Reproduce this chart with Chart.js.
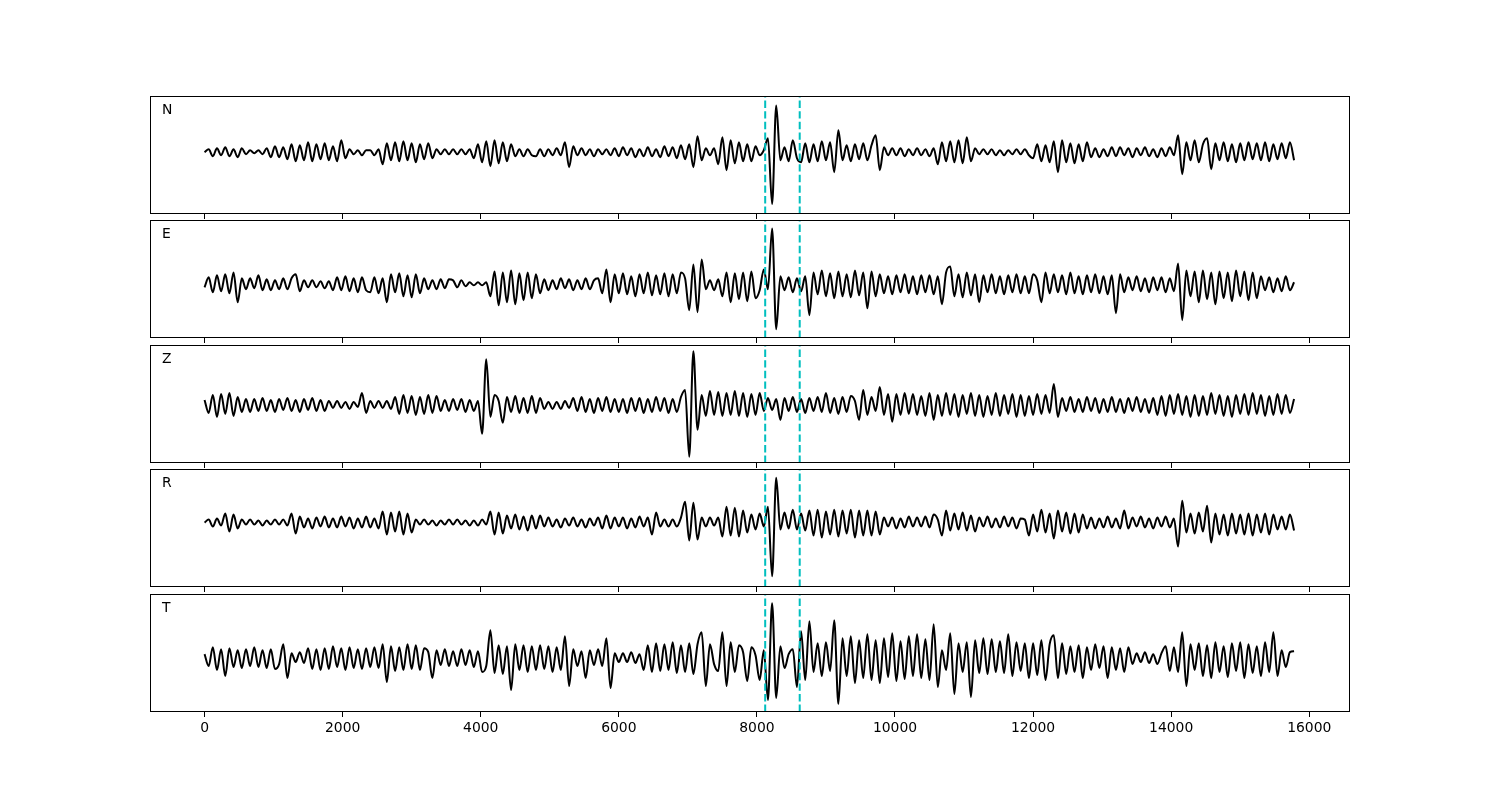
<!DOCTYPE html>
<html>
<head>
<meta charset="utf-8">
<title>Waveforms N E Z R T</title>
<script src="https://cdn.jsdelivr.net/npm/chart.js@4/dist/chart.umd.min.js"></script>
<style>
  body { margin: 0; background: #fff; }
  #wrap { position: relative; width: 1500px; height: 800px; }
  #wrap canvas { position: absolute; left: 150px; }
</style>
</head>
<body>
<div id="wrap"></div>
<script>
// sample spacing of the traces (x units)
const sampleStep = 60;
const components = ['N', 'E', 'Z', 'R', 'T'];

// traces, one value per sample
const nTrace = [
  0,3,-4,4,-3,5,-4,3,-5,4,-2,2,-1,2,-2,4,-5,6,-5,5,
  -7,8,-9,7,-8,10,-9,8,-7,9,-8,6,-9,12,-6,3,-2,2,-3,2,
  2,-3,3,-12,9,-8,10,-9,11,-8,9,-10,8,-7,9,-6,3,-2,3,-2,
  3,-2,3,-2,3,-6,8,-10,11,-14,12,-11,10,-9,8,-4,3,-4,3,-3,
  -4,3,-4,3,-3,4,-3,10,-15,6,-3,4,-3,3,-4,3,-2,3,-3,4,
  -4,5,-3,4,-5,3,-4,5,-4,3,-5,6,-4,5,-6,7,-7,8,-15,16,
  -8,4,-3,4,-12,15,-18,12,-11,10,-9,8,-9,6,-3,2,14,-52,47,-8,
  5,-9,12,-6,-10,9,-10,8,-9,11,-8,10,-20,22,-8,7,-9,8,-7,9,
  -8,7,17,-18,5,-3,4,-3,4,-4,3,-3,4,-3,3,-4,4,-12,10,-9,
  11,-10,12,-11,15,-9,4,-2,3,-2,3,-3,2,-3,2,-2,3,-2,3,-3,
  -6,8,-9,7,-10,11,-20,12,-10,9,-11,8,-9,10,-5,4,-5,3,-4,5,
  -4,5,-3,4,-5,4,-3,5,-4,3,-5,4,-4,5,-3,17,-22,10,-8,12,
  -10,8,14,-17,9,-8,10,-9,8,-10,9,-8,10,-7,9,-8,10,-9,8,-7,
  9,-6,10,-8
];
const eTrace = [
  -3,7,-8,9,-7,10,-9,12,-18,6,-5,6,-4,9,-6,5,-6,4,-5,6,
  -5,6,10,-7,4,-3,4,-3,3,-4,3,-6,7,-6,8,-7,6,-8,7,-6,
  -8,7,-9,6,-18,10,-8,11,-12,9,-13,10,-9,6,-5,4,-5,5,-4,5,
  4,-3,4,-2,2,-1,2,-1,2,-12,13,-21,12,-18,14,-20,11,-16,12,-14,
  10,-9,5,-6,4,-5,6,-4,5,-6,4,-5,6,-5,4,6,-9,15,-18,10,
  -9,11,-10,8,-12,10,-9,12,-11,9,-10,11,-12,10,-9,12,6,-26,20,-28,
  25,-5,4,-6,5,-12,12,-18,11,-15,12,-17,13,-14,-6,15,-5,56,-45,8,
  -6,7,-8,6,-7,8,-31,12,-10,14,-12,11,-14,13,-12,10,-13,14,-11,12,
  -24,13,-12,10,-9,8,-10,9,-8,10,-9,8,-10,9,-8,9,-10,8,-20,12,
  18,-12,10,-13,12,-11,10,-18,9,-8,10,-9,8,-10,9,-8,10,-9,8,-9,
  10,4,-18,12,-9,10,-8,9,-10,12,-9,8,-10,9,-8,10,-9,8,-10,9,
  -29,10,-8,7,-6,8,-7,6,-8,7,-6,7,-8,6,-7,21,-36,14,-12,13,
  -18,14,-15,12,-20,13,-14,12,-17,14,-12,13,-16,12,-14,8,-6,7,-8,6,
  -7,8,-6,2
];
const zTrace = [
  5,-8,10,-12,11,-9,12,-11,8,-7,6,-7,6,-6,7,-6,5,-7,6,-5,
  7,-6,5,-7,6,-5,7,-6,5,-6,4,-3,4,-3,3,-4,3,-2,12,-8,
  4,-3,4,-3,4,-4,8,-9,10,-8,9,-10,8,-9,10,-8,9,-6,5,-6,
  6,-5,6,-7,5,-6,4,-29,46,-12,10,4,-18,8,-7,9,-8,7,-8,9,
  -8,7,-4,3,-4,3,-4,4,-3,7,-6,8,-7,6,-8,7,-6,8,-7,6,
  -7,6,-8,7,-6,7,-8,6,-7,8,-6,7,-8,6,-7,8,15,-52,54,-25,
  10,-11,14,-10,13,-11,12,-10,14,-11,12,-12,11,-10,12,-6,7,-5,6,-15,
  7,-6,8,-7,6,-8,7,-6,8,-7,12,-8,7,-9,8,-7,9,4,-15,15,
  -10,8,-6,18,-10,11,-17,11,-10,12,-9,11,-10,9,-11,12,-15,10,-11,12,
  -10,11,-12,10,-9,12,-11,10,-12,9,-10,12,-11,10,-9,11,-12,10,-11,9,
  -10,11,-9,10,-8,21,-12,7,-6,8,-7,6,-7,8,-6,7,-8,6,-7,8,
  -7,6,-8,7,-6,8,-7,6,-8,7,-10,9,-11,10,-9,11,-10,9,-12,10,
  -11,9,-10,12,-9,10,-11,9,-12,10,-9,11,-10,12,-9,10,-11,9,-10,11,
  -9,10,-8,6
];
const rTrace = [
  0,3,-4,4,-3,9,-9,8,-6,3,-2,3,-2,2,-3,2,-2,3,-2,3,
  -3,9,-11,6,-5,4,-6,5,-4,6,-5,4,-5,6,-4,5,-6,4,-5,6,
  -5,4,-6,11,-12,10,-9,11,-12,9,-10,3,-2,3,-2,2,-3,2,-2,3,
  -2,3,-2,2,-3,2,-3,3,-2,11,-12,10,-11,7,-6,8,-7,6,-8,7,
  -6,7,-4,5,-4,3,-5,4,-3,5,-4,3,-5,4,-3,5,-6,7,-6,5,
  -4,5,-6,4,-5,6,-4,5,-12,10,-4,3,-4,3,-4,5,21,-18,20,-17,
  5,-4,5,-3,5,-14,16,-13,15,-14,12,-10,8,-7,9,-4,16,-54,45,-7,
  10,-6,13,-7,9,-8,12,-13,13,-15,11,-12,13,-14,12,-11,13,-15,12,-13,
  12,-13,11,-12,5,-4,5,-6,4,-5,6,-4,5,-4,6,-5,8,3,-13,12,
  -8,9,-7,10,-8,7,-9,5,-4,6,-5,4,-5,6,-4,5,-6,4,3,-13,
  8,-9,13,-10,9,-16,12,-9,10,-11,9,-10,8,-6,5,-6,4,-5,6,-5,
  4,-6,12,-6,5,-4,6,-5,4,-6,5,-4,6,-5,4,-24,22,-10,9,-11,
  10,-9,17,-20,9,-12,8,-13,9,-11,8,-12,9,-13,8,-10,9,-12,8,-7,
  6,-7,8,-8
];
const tTrace = [
  4,-8,11,-12,9,-18,10,-9,8,-10,9,-8,11,-9,8,-10,9,-11,-6,14,
  -20,5,-4,6,-5,10,-11,9,-12,10,-11,12,-9,10,-12,11,-10,9,-11,10,
  -9,11,-10,14,-24,12,-13,11,-12,14,-11,13,-12,10,6,-20,8,-7,9,-8,
  7,-8,9,-7,8,-9,7,-14,-8,28,-15,13,-16,12,-32,14,-12,13,-14,12,
  -12,13,-11,12,-14,11,-12,22,-28,9,-8,7,-20,8,-7,9,-8,20,-30,5,
  -4,5,-4,6,-5,4,-12,13,-14,15,-13,14,-12,16,-15,13,-14,15,-16,14,
  26,-28,14,-6,-13,26,-28,16,-14,13,6,-23,11,3,-22,8,-42,55,-40,12,
  -10,4,9,-29,27,-22,37,-14,15,-18,16,-13,38,-46,20,-18,22,-25,18,-20,
  24,-22,18,-25,20,-19,25,-23,17,-21,22,-18,24,-20,19,-22,34,-29,8,-12,
  25,-36,15,-14,16,-39,18,-15,20,-16,19,-14,17,-15,24,-18,16,-13,15,-20,
  15,-17,18,-22,14,23,-20,15,-16,12,-14,13,-20,11,-12,14,-10,12,-20,11,
  -12,10,-14,11,-6,5,-4,6,-5,4,-6,5,12,-13,11,-14,26,-28,14,-12,
  15,-18,13,-20,16,-14,12,-19,15,-13,16,-20,14,-15,12,-18,16,-14,26,-18,
  8,-9,6,7
];
const traces = [nTrace, eTrace, zTrace, rTrace, tTrace];

// picked times (dashed cyan lines)
const picks = [8120, 8620];

// x tick labels
const tickValues = [0, 2000, 4000, 6000, 8000, 10000, 12000, 14000, 16000];

// amplitude limits of each panel
const yMin = [-62, -53.9, -58.3, -64.7, -54.1];
const yMax = [56.5, 64.6, 60.2, 53.8, 64.4];

const panelTop = [96, 220, 345, 469, 594];
const panelHeight = 118;

Chart.defaults.font.family = '"DejaVu Sans", sans-serif';
Chart.defaults.font.size = 13.9;
Chart.defaults.color = '#000';

// frame, component letter and pick lines
const framePlugin = {
  id: 'frame',
  afterDatasetsDraw(chart, args, opts) {
    const ctx = chart.ctx;
    const a = chart.chartArea;
    const x = chart.scales.x;
    ctx.save();
    ctx.strokeStyle = '#00bfbf';
    ctx.lineWidth = 2;
    ctx.setLineDash([7.4, 3.2]);
    picks.forEach(function (p) {
      const px = x.getPixelForValue(p);
      ctx.beginPath();
      ctx.moveTo(px, a.bottom);
      ctx.lineTo(px, a.top);
      ctx.stroke();
    });
    ctx.restore();
  },
  afterDraw(chart, args, opts) {
    const ctx = chart.ctx;
    const a = chart.chartArea;
    ctx.save();
    ctx.strokeStyle = '#000';
    ctx.lineWidth = 1;
    ctx.strokeRect(Math.round(a.left) + 0.5, Math.round(a.top) + 0.5,
      Math.round(a.right - a.left) - 1, Math.round(a.bottom - a.top) - 1);
    ctx.fillStyle = '#000';
    ctx.font = '13.9px "DejaVu Sans"';
    ctx.textBaseline = 'alphabetic';
    ctx.fillText(opts.label, a.left + 0.01 * (a.right - a.left), a.top + 0.15 * (a.bottom - a.top));
    ctx.restore();
  }
};

const wrap = document.getElementById('wrap');

traces.forEach(function (trace, k) {
  const last = k === traces.length - 1;
  const axisHeight = last ? 40 : 5;
  const canvas = document.createElement('canvas');
  canvas.width = 1200;
  canvas.height = panelHeight + axisHeight;
  canvas.style.top = panelTop[k] + 'px';
  canvas.style.width = '1200px';
  canvas.style.height = (panelHeight + axisHeight) + 'px';
  wrap.appendChild(canvas);

  new Chart(canvas, {
    type: 'line',
    data: {
      datasets: [{
        data: trace.map((v, i) => ({ x: i * sampleStep, y: v })),
        borderColor: '#000',
        borderWidth: 2,
        pointRadius: 0,
        fill: false,
        cubicInterpolationMode: 'monotone'
      }]
    },
    options: {
      responsive: false,
      animation: false,
      devicePixelRatio: 1,
      layout: { padding: 0 },
      plugins: {
        legend: { display: false },
        tooltip: { enabled: false },
        frame: { label: components[k] }
      },
      scales: {
        x: {
          type: 'linear',
          min: -790,
          max: 16590,
          afterBuildTicks: (s) => { s.ticks = tickValues.map(v => ({ value: v })); },
          afterFit: (s) => { s.height = axisHeight; },
          border: { display: false },
          grid: { display: true, drawOnChartArea: false, drawTicks: true, tickLength: 5, color: '#000', lineWidth: 1 },
          ticks: { display: last, autoSkip: false, maxRotation: 0, padding: 3, callback: (v) => String(v) }
        },
        y: { display: false, min: yMin[k], max: yMax[k] }
      }
    },
    plugins: [framePlugin]
  });
});
</script>
</body>
</html>
